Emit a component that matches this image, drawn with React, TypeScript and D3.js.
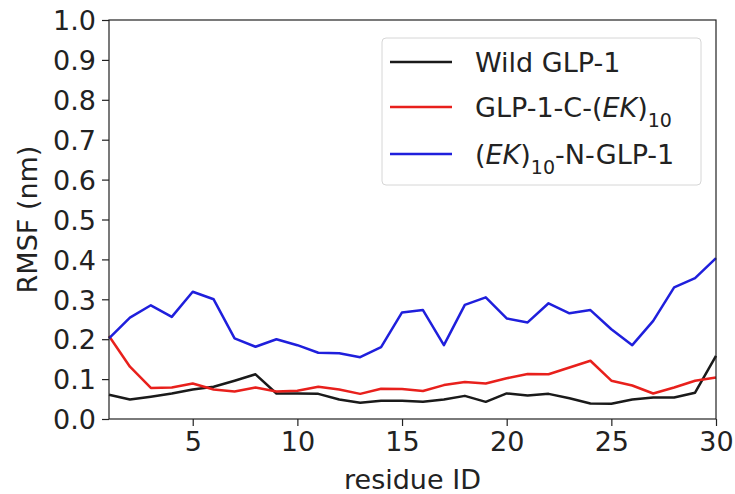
import React, { useRef, useEffect } from "react";
import * as d3 from "d3";

const residues = d3.range(1, 31);

const wild = [
  0.061, 0.049, 0.056, 0.064, 0.074, 0.081, 0.096, 0.112, 0.064, 0.064,
  0.063, 0.049, 0.041, 0.046, 0.046, 0.043, 0.049, 0.058, 0.043, 0.064,
  0.059, 0.063, 0.052, 0.039, 0.038, 0.049, 0.054, 0.054, 0.066, 0.158,
];

const cTerm = [
  0.208, 0.131, 0.078, 0.079, 0.089, 0.074, 0.069, 0.079, 0.069, 0.071,
  0.081, 0.074, 0.063, 0.076, 0.075, 0.07, 0.085, 0.093, 0.089, 0.102,
  0.113, 0.112, 0.129, 0.146, 0.096, 0.084, 0.064, 0.079, 0.096, 0.104,
];

const nTerm = [
  0.202, 0.254, 0.285, 0.256, 0.319, 0.3, 0.202, 0.181, 0.2, 0.185,
  0.166, 0.165, 0.155, 0.18, 0.267, 0.273, 0.185, 0.286, 0.305, 0.252,
  0.242, 0.29, 0.265, 0.273, 0.225, 0.185, 0.246, 0.33, 0.353, 0.403,
];

const xTicks = [5, 10, 15, 20, 25, 30];
const yTicks = d3.range(0, 11).map((d) => d / 10);

const series = [
  { name: "wild", values: wild, color: "#1a1a1a" },
  { name: "c", values: cTerm, color: "#e8201c" },
  { name: "n", values: nTerm, color: "#1f1fdc" },
];

const FS = 27;

const App = () => {
  const ref = useRef(null);

  useEffect(() => {
    d3.select(ref.current).selectAll("*").remove();

    const W = 735,
      H = 494;
    const margin = { top: 20, right: 19, bottom: 75, left: 109 };
    const width = W - margin.left - margin.right,
      height = H - margin.top - margin.bottom;

    const root = d3
      .select(ref.current)
      .append("svg")
      .attr("width", W)
      .attr("height", H)
      .style("display", "block")
      .style("font-family", "'DejaVu Sans', sans-serif");

    const svg = root
      .append("g")
      .attr("transform", `translate(${margin.left},${margin.top})`);

    const x = d3.scaleLinear().domain([1, 30]).range([0, width]);
    const y = d3.scaleLinear().domain([0, 1]).range([height, 0]);

    const line = d3
      .line<number>()
      .x((d, i) => x(residues[i]))
      .y((d) => y(d));

    series.forEach((s) => {
      svg
        .append("path")
        .datum(s.values)
        .attr("d", line)
        .attr("fill", "none")
        .attr("stroke", s.color)
        .attr("stroke-width", 2.5)
        .attr("stroke-linejoin", "round");
    });

    // frame
    svg
      .append("rect")
      .attr("x", 0)
      .attr("y", 0)
      .attr("width", width)
      .attr("height", height)
      .attr("fill", "none")
      .attr("stroke", "#222")
      .attr("stroke-width", 1.2);

    const xAxis = svg
      .append("g")
      .attr("transform", `translate(0,${height})`)
      .call(d3.axisBottom(x).tickValues(xTicks).tickSize(7).tickPadding(6));
    xAxis.select(".domain").remove();

    const yAxis = svg
      .append("g")
      .call(
        d3
          .axisLeft(y)
          .tickValues(yTicks)
          .tickFormat(d3.format(".1f"))
          .tickSize(7)
          .tickPadding(6)
      );
    yAxis.select(".domain").remove();

    svg
      .selectAll(".tick text")
      .attr("font-size", FS)
      .attr("font-family", "'DejaVu Sans', sans-serif")
      .attr("fill", "#222");
    svg.selectAll(".tick line").attr("stroke", "#222").attr("stroke-width", 1.2);
    yAxis.selectAll(".tick text").attr("dy", "0.36em");

    svg
      .append("text")
      .attr("x", width / 2)
      .attr("y", height + 70)
      .attr("text-anchor", "middle")
      .attr("font-size", FS)
      .attr("fill", "#222")
      .text("residue ID");

    svg
      .append("text")
      .attr("transform", `translate(${-72},${height / 2}) rotate(-90)`)
      .attr("text-anchor", "middle")
      .attr("font-size", FS)
      .attr("fill", "#222")
      .text("RMSF (nm)");

    // legend
    const lg = root.append("g").attr("transform", "translate(382,38)");
    lg.append("rect")
      .attr("width", 319)
      .attr("height", 147)
      .attr("rx", 4)
      .attr("fill", "white")
      .attr("fill-opacity", 0.8)
      .attr("stroke", "#d6d6d6")
      .attr("stroke-width", 1);

    const rows = [24, 69, 116];
    series.forEach((s, i) => {
      lg.append("line")
        .attr("x1", 8)
        .attr("x2", 70)
        .attr("y1", rows[i])
        .attr("y2", rows[i])
        .attr("stroke", s.color)
        .attr("stroke-width", 2.5);
    });

    const label = (i: number) =>
      lg
        .append("text")
        .attr("x", 93)
        .attr("y", rows[i])
        .attr("dy", "0.36em")
        .attr("font-size", FS)
        .attr("fill", "#222");

    label(0).text("Wild GLP-1");

    const t1 = label(1);
    t1.append("tspan").text("GLP-1-C-(");
    t1.append("tspan").attr("font-style", "italic").text("EK");
    t1.append("tspan").text(")");
    t1.append("tspan").attr("font-size", 19).attr("dy", "0.55em").text("10");

    const t2 = label(2);
    t2.append("tspan").text("(");
    t2.append("tspan").attr("font-style", "italic").text("EK");
    t2.append("tspan").text(")");
    t2.append("tspan").attr("font-size", 19).attr("dy", "0.55em").text("10");
    t2.append("tspan").attr("dy", "-0.39em").text("-N-GLP-1");
  }, []);

  return (
    <div
      ref={ref}
      style={{ position: "absolute", left: 0, top: 0, width: 735, height: 494, overflow: "hidden" }}
    ></div>
  );
};

export default App;
